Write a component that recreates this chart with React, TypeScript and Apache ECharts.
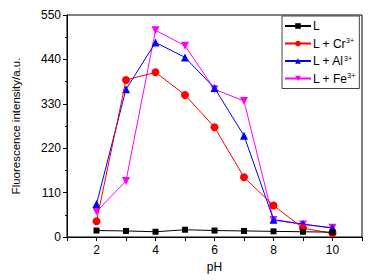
import React, { useEffect, useRef } from "react";
import * as echarts from "echarts";

const pH = [2, 3, 4, 5, 6, 7, 8, 9, 10];
const seriesL = [16, 15, 13, 18, 16, 15, 14, 13, 12];
const seriesCr = [39, 389, 408, 352, 272, 148, 78, 22, 9];
const seriesAl = [82, 366, 482, 445, 369, 251, 43, 32, 22];
const seriesFe = [63, 139, 512, 474, 366, 337, 42, 31, 23];
const yTicks = [0, 110, 220, 330, 440, 550];

const names = ["L", "L + Cr", "L + Al", "L + Fe"];
const colors = ["#000000", "#ff0000", "#0000ff", "#ff00ff"];
const symbols = ["rect", "circle", "triangle", "triangle"];
const rotates = [0, 0, 0, 180];
const datasets = [seriesL, seriesCr, seriesAl, seriesFe];

const FONT = "Liberation Sans, Arial, sans-serif";

export default function App() {
  const ref = useRef<HTMLDivElement>(null);
  useEffect(() => {
    const chart = echarts.init(ref.current!, null, { renderer: "svg" });
    chart.setOption({
      animation: false,
      backgroundColor: "#ffffff",
      textStyle: { fontFamily: FONT },
      grid: {
        left: 67,
        right: 22,
        top: 15,
        bottom: 43,
        show: true,
        borderColor: "#000",
        borderWidth: 1,
      },
      legend: {
        orient: "vertical",
        left: 282,
        top: 16,
        itemWidth: 26,
        itemHeight: 7,
        itemGap: 5,
        padding: [4, 4, 4, 2],
        borderColor: "#444",
        borderWidth: 1,
        borderRadius: 0,
        backgroundColor: "#fff",
        data: names,
        formatter: (n: string) => (n === "L" ? "L" : n + "{sup|3+}"),
        textStyle: {
          fontFamily: FONT,
          fontSize: 12,
          color: "#000",
          padding: [0, 0, 0, -3],
          rich: {
            sup: { fontSize: 7, verticalAlign: "top", padding: [0, 0, 6, 0], fontFamily: FONT, color: "#000" },
          },
        },
      },
      xAxis: {
        type: "value",
        min: 1,
        max: 11,
        interval: 1,
        name: "pH",
        nameLocation: "middle",
        nameGap: 24,
        nameTextStyle: { fontFamily: FONT, fontSize: 12, color: "#000" },
        axisLine: { lineStyle: { color: "#000" } },
        axisTick: { length: 4, lineStyle: { color: "#000" } },
        splitLine: { show: false },
        axisLabel: {
          fontFamily: FONT,
          fontSize: 12,
          color: "#000",
          margin: 7,
          formatter: (v: number) => (v % 2 === 0 && v >= 2 && v <= 10 ? String(v) : ""),
        },
      },
      yAxis: {
        type: "value",
        min: yTicks[0],
        max: yTicks[yTicks.length - 1],
        interval: 110,
        name: "Fluorescence intensity/a.u.",
        nameLocation: "middle",
        nameGap: 45,
        nameTextStyle: { fontFamily: FONT, fontSize: 11.5, color: "#000" },
        axisLine: { show: true, lineStyle: { color: "#000" } },
        axisTick: { show: true, length: 4, lineStyle: { color: "#000" } },
        minorTick: { show: true, splitNumber: 2, length: 2, lineStyle: { color: "#000" } },
        splitLine: { show: false },
        axisLabel: { fontFamily: FONT, fontSize: 12, color: "#000", margin: 6 },
      },
      series: datasets.map((d, i) => ({
        name: names[i],
        type: "line",
        data: d.map((v, j) => [pH[j], v]),
        symbol: symbols[i],
        symbolRotate: rotates[i],
        symbolSize: i === 0 ? 6 : 8,
        itemStyle: { color: colors[i] },
        lineStyle: { color: colors[i], width: 1 },
        z: 10 - i,
      })),
    });
    return () => chart.dispose();
  }, []);
  return <div ref={ref} style={{ width: 384, height: 280, position: "absolute", left: 0, top: 0 }} />;
}
